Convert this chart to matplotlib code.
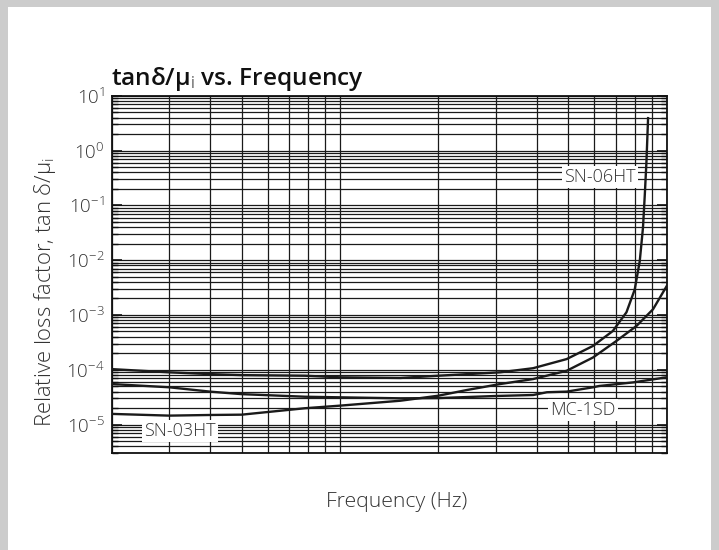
import matplotlib
matplotlib.use("Agg")
import matplotlib.pyplot as plt
from matplotlib.patches import Rectangle
from matplotlib.ticker import LogLocator, NullFormatter, FixedLocator, FixedFormatter

plt.rcParams['font.family'] = ['Open Sans', 'DejaVu Sans']
plt.rcParams['mathtext.fontset'] = 'custom'
plt.rcParams['mathtext.rm'] = 'Open Sans:light'
plt.rcParams['mathtext.it'] = 'Open Sans:italic'
plt.rcParams['mathtext.bf'] = 'Open Sans:bold'

# ---- data (frequency in Hz, relative loss factor) ----
freq_sn06 = [2.0e4, 3.0e4, 4.0e4, 5.0e4, 7.8e4, 1.0e5, 1.53e5, 2.0e5, 3.09e5, 3.9e5,
             4.94e5, 5.95e5, 6.84e5, 7.53e5, 7.98e5, 8.27e5, 8.46e5, 8.57e5, 8.67e5, 8.77e5]
loss_sn06 = [1.03e-4, 9.0e-5, 8.35e-5, 8.0e-5, 7.8e-5, 7.3e-5, 7.1e-5, 7.8e-5, 9.0e-5, 1.07e-4,
             1.57e-4, 2.73e-4, 5.1e-4, 1.12e-3, 2.9e-3, 9.6e-3, 3.9e-2, 0.157, 0.63, 3.9]

freq_mc1 = [2.0e4, 3.0e4, 4.0e4, 5.0e4, 7.8e4, 1.0e5, 1.53e5, 2.0e5, 3.0e5, 3.9e5,
            4.3e5, 4.94e5, 5.95e5, 6.2e5, 7.9e5, 1.0e6]
loss_mc1 = [5.5e-5, 4.8e-5, 4.0e-5, 3.6e-5, 3.23e-5, 3.15e-5, 3.02e-5, 3.05e-5, 3.33e-5, 3.47e-5,
            3.9e-5, 4.0e-5, 4.8e-5, 5.06e-5, 5.9e-5, 7.3e-5]

freq_sn03 = [2.0e4, 3.0e4, 4.0e4, 5.0e4, 7.8e4, 1.0e5, 1.53e5, 2.0e5, 2.44e5, 3.09e5,
             3.9e5, 4.94e5, 5.95e5, 7.02e5, 8.08e5, 9.08e5, 1.0e6]
loss_sn03 = [1.57e-5, 1.46e-5, 1.5e-5, 1.52e-5, 1.99e-5, 2.22e-5, 2.73e-5, 3.37e-5, 4.27e-5, 5.5e-5,
             6.78e-5, 9.6e-5, 1.68e-4, 3.37e-4, 6.3e-4, 1.27e-3, 3.37e-3]

series_labels = ["SN-06HT", "MC-1SD", "SN-03HT"]
ytick_vals = [1e-5, 1e-4, 1e-3, 1e-2, 1e-1, 1e0, 1e1]
ytick_text = [r"$10^{-5}$", r"$10^{-4}$", r"$10^{-3}$", r"$10^{-2}$", r"$10^{-1}$", r"$10^{0}$", r"$10^{1}$"]

W, H = 719, 550
fig = plt.figure(figsize=(W / 100, H / 100), dpi=100, facecolor='#cccccc')
fig.patches.append(Rectangle((8 / W, 0), (711 - 8) / W, (550 - 7) / H,
                             transform=fig.transFigure, facecolor='white', edgecolor='none', zorder=-10))

ax = fig.add_axes([111.7 / W, 1 - 453.3 / H, (666.7 - 111.7) / W, (453.3 - 95.7) / H])
ax.set_zorder(2)
ax.set_facecolor('white')
ax.set_xscale('log')
ax.set_yscale('log')
ax.set_xlim(2e4, 1e6)
ax.set_ylim(3e-6, 10)

ax.xaxis.set_major_locator(LogLocator(base=10, numticks=20))
ax.xaxis.set_minor_locator(LogLocator(base=10, subs=range(2, 10), numticks=50))
ax.xaxis.set_major_formatter(NullFormatter())
ax.xaxis.set_minor_formatter(NullFormatter())
ax.tick_params(axis='x', which='both', length=0)

ax.yaxis.set_major_locator(FixedLocator(ytick_vals))
ax.yaxis.set_major_formatter(FixedFormatter(ytick_text))
ax.yaxis.set_minor_locator(LogLocator(base=10, subs=range(2, 10), numticks=50))
ax.yaxis.set_minor_formatter(NullFormatter())
ax.tick_params(axis='y', which='major', direction='in', length=7, width=1.2,
               left=True, right=True, labelsize=13.5, colors='#111111', labelcolor='#333333', pad=5)
ax.tick_params(axis='y', which='minor', direction='in', length=4, width=1.0,
               left=True, right=True, colors='#111111')

ax.grid(True, which='both', axis='both', color='#1a1a1a', linewidth=0.9)
ax.set_axisbelow(True)
for s in ax.spines.values():
    s.set_color('#111111')
    s.set_linewidth(1.3)

lc = '#1a1a1a'
ax.plot(freq_sn06, loss_sn06, color=lc, lw=1.7, zorder=3)
ax.plot(freq_mc1, loss_mc1, color=lc, lw=1.7, zorder=3)
ax.plot(freq_sn03, loss_sn03, color=lc, lw=1.7, zorder=3)

box = dict(facecolor='white', edgecolor='none', pad=1.5)
def fx(px):
    return px / W
def fy(py):
    return 1 - py / H
for lbl, (px, py) in zip(series_labels, [(600, 177), (583, 410), (180, 431)]):
    ax.text(fx(px), fy(py), lbl, transform=fig.transFigure, ha='center', va='center',
            fontsize=13, fontweight='light', color='#333333', bbox=box, zorder=5)

fig.text(fx(111), fy(85), r"tanδ/μ$_\mathrm{i}$ vs. Frequency", ha='left', va='baseline',
         fontsize=17.6, fontweight='semibold', color='#111111')
fig.text(fx(45), fy(292), r"Relative loss factor, tan δ/μ$_\mathrm{i}$", rotation=90,
         ha='center', va='center', fontsize=15.8, fontweight='light', color='#333333')
fig.text(fx(397), fy(502), "Frequency (Hz)", ha='center', va='center', fontsize=15.3,
         fontweight='light', color='#333333')

fig.savefig("out.png", dpi=100, facecolor=fig.get_facecolor())
